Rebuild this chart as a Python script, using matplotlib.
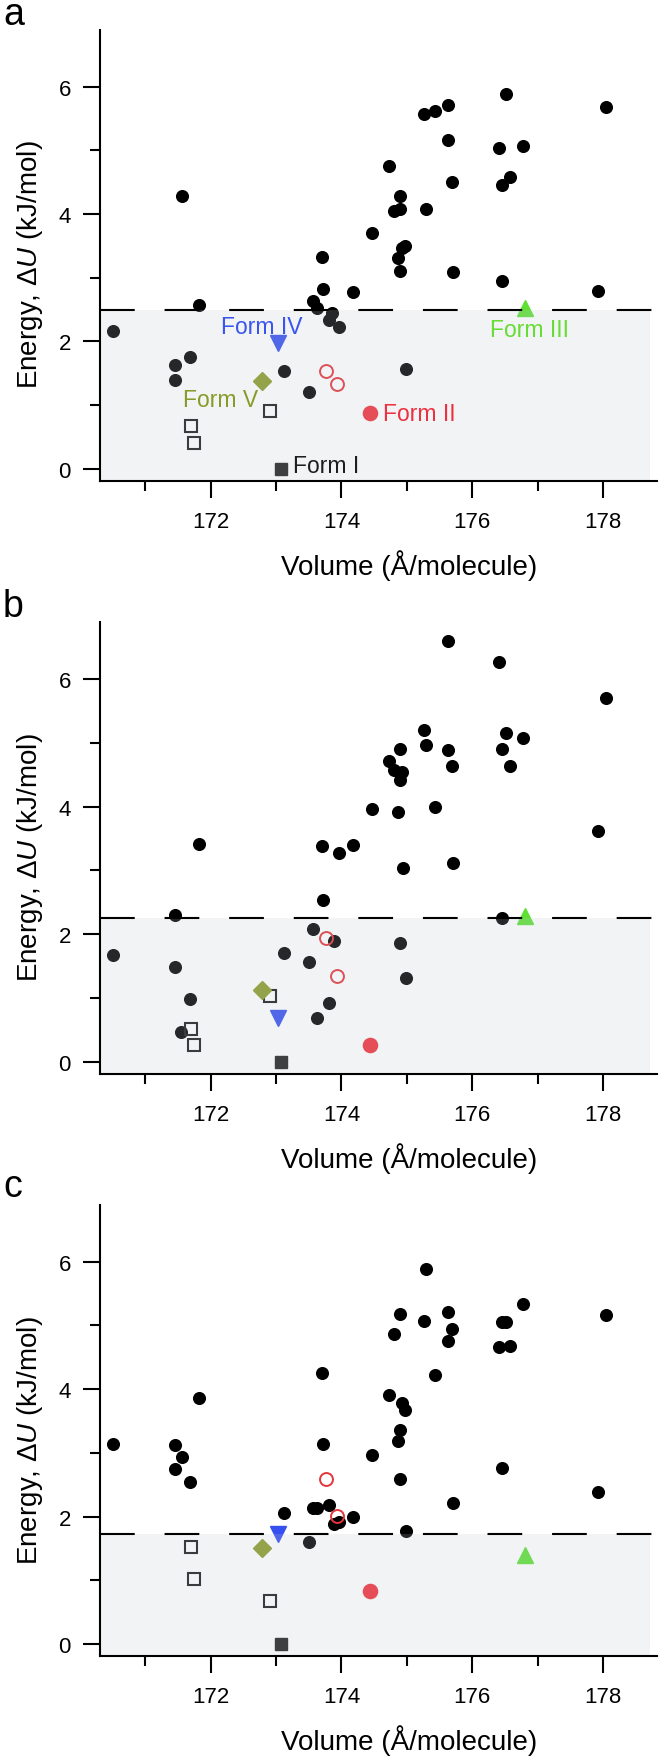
import matplotlib
matplotlib.use('Agg')
import matplotlib.pyplot as plt
from matplotlib.ticker import MultipleLocator

plt.rcParams['font.family'] = ['Liberation Sans', 'DejaVu Sans']
plt.rcParams['mathtext.fontset'] = 'custom'
plt.rcParams['mathtext.rm'] = 'Liberation Sans'
plt.rcParams['mathtext.it'] = 'Liberation Sans:italic'
plt.rcParams['lines.scale_dashes'] = False

# ---------------- data ----------------
panel_letters = ['a', 'b', 'c']
thresholds = [2.5, 2.25, 1.73]

vol_a = [171.56, 175.26, 175.43, 175.63, 176.52, 178.05, 175.63, 176.41, 176.78, 174.73,
         175.69, 176.57, 176.46, 174.90, 174.89, 174.80, 175.29, 174.47, 174.97, 174.92,
         173.70, 174.87, 174.90, 175.71, 176.45, 177.93, 173.72, 174.17, 173.57, 171.83,
         173.62, 173.86, 173.81, 173.96, 170.51, 171.68, 171.46, 171.46, 173.13, 174.99,
         173.51]
energy_a = [4.29, 5.57, 5.62, 5.72, 5.88, 5.68, 5.17, 5.04, 5.07, 4.76,
            4.51, 4.59, 4.46, 4.28, 4.08, 4.05, 4.08, 3.71, 3.50, 3.46,
            3.33, 3.31, 3.11, 3.09, 2.95, 2.79, 2.83, 2.77, 2.64, 2.58,
            2.53, 2.45, 2.34, 2.22, 2.17, 1.75, 1.63, 1.39, 1.53, 1.57,
            1.21]

vol_b = [175.63, 176.41, 178.05, 175.26, 175.29, 176.52, 176.78, 174.90, 175.63, 176.46,
         174.73, 174.80, 174.93, 174.89, 175.69, 176.57, 174.47, 174.87, 175.43, 177.93,
         171.83, 173.70, 173.96, 174.17, 175.71, 174.94, 173.72, 171.46, 176.45, 173.57,
         173.88, 174.90, 170.51, 173.13, 171.46, 173.51, 174.99, 171.68, 173.81, 173.62,
         171.55]
energy_b = [6.59, 6.26, 5.70, 5.20, 4.97, 5.15, 5.07, 4.90, 4.89, 4.90,
            4.71, 4.58, 4.54, 4.42, 4.64, 4.64, 3.96, 3.92, 4.00, 3.62,
            3.41, 3.38, 3.28, 3.40, 3.12, 3.04, 2.53, 2.30, 2.25, 2.08,
            1.90, 1.87, 1.68, 1.71, 1.48, 1.57, 1.31, 0.99, 0.92, 0.68,
            0.47]

vol_c = [175.29, 176.78, 178.05, 174.89, 175.63, 175.26, 176.46, 176.52, 175.69, 174.80,
         175.63, 176.41, 176.57, 173.70, 175.43, 171.83, 174.73, 174.93, 174.97, 174.90,
         170.51, 171.46, 173.72, 174.87, 171.56, 174.47, 171.46, 176.45, 171.68, 174.90,
         177.93, 175.71, 173.81, 173.57, 173.62, 173.13, 174.17, 173.88, 173.96, 174.99,
         173.51]
energy_c = [5.88, 5.33, 5.16, 5.18, 5.21, 5.07, 5.06, 5.06, 4.95, 4.86,
            4.76, 4.67, 4.68, 4.25, 4.22, 3.87, 3.91, 3.78, 3.67, 3.36,
            3.14, 3.12, 3.14, 3.18, 2.93, 2.97, 2.75, 2.77, 2.54, 2.59,
            2.38, 2.21, 2.19, 2.13, 2.14, 2.06, 1.99, 1.88, 1.92, 1.77,
            1.61]

open_circle_vol = [173.77, 173.94]
open_circle_e = [[1.54, 1.33], [1.94, 1.35], [2.59, 2.01]]

open_square_vol = [172.91, 171.70, 171.75]
open_square_e = [[0.91, 0.68, 0.41], [1.03, 0.52, 0.27], [0.67, 1.52, 1.02]]

form_names = ['Form I', 'Form II', 'Form III', 'Form IV', 'Form V']
form_vol = [173.07, 174.44, 176.81, 173.03, 172.79]
form_e = [[0.0, 0.87, 2.52, 1.98, 1.38],
          [0.0, 0.26, 2.29, 0.68, 1.13],
          [0.0, 0.83, 1.40, 1.73, 1.51]]

x_ticks = [172, 174, 176, 178]
y_ticks = [0, 2, 4, 6]

# ---------------- styles ----------------
form_styles = [
    dict(marker='s', ms=9.2, color='#1e1e1e'),
    dict(marker='o', ms=10.2, color='#f0303c'),
    dict(marker='^', ms=11.5, color='#5ee035'),
    dict(marker='v', ms=12, color='#3550ee'),
    dict(marker='D', ms=9, color='#8a9a28'),
]
label_colors = ['#1e1e1e', '#ee3040', '#66dd33', '#3a55ee', '#8a9a28']
# label text positions (panel a only): (x, y baseline)
label_pos = [(173.26, -0.05), (174.64, 0.76), (176.27, 2.09), (172.16, 2.13), (171.58, 0.98)]

vols = [vol_a, vol_b, vol_c]
energies = [energy_a, energy_b, energy_c]

fig = plt.figure(figsize=(6.61, 17.58), dpi=100)
W, H = 661.0, 1758.0
ax_left = 100 / W
ax_width = (656.7 - 100) / W
ax_tops = [31, 623.3, 1206]
ax_bottoms = [482, 1075, 1657.3]
letter_baselines = [25, 617, 1197]

for i in range(3):
    rect = [ax_left, 1 - ax_bottoms[i] / H, ax_width, (ax_bottoms[i] - ax_tops[i]) / H]
    ax = fig.add_axes(rect)
    ax.set_xlim(170.31, 178.82)
    ax.set_ylim(-0.19, 6.89)

    ax.plot(vols[i], energies[i], linestyle='none', marker='o', ms=8.4,
            color='black', mec='black', zorder=2)
    ax.plot(open_circle_vol, open_circle_e[i], linestyle='none', marker='o', ms=9.3,
            mfc='none', mec='#e5343a', mew=1.4, zorder=2)
    ax.plot(open_square_vol, open_square_e[i], linestyle='none', marker='s', ms=8.4,
            mfc='none', mec='#1a1a1a', mew=1.5, zorder=2)
    for k in range(len(form_names)):
        st = form_styles[k]
        ax.plot([form_vol[k]], [form_e[i][k]], linestyle='none', marker=st['marker'],
                ms=st['ms'], color=st['color'], mec=st['color'], zorder=2)

    # shaded stability region (semi-transparent overlay)
    ax.axhspan(-0.19, thresholds[i], xmin=0, xmax=0.988,
               facecolor=(0.74, 0.77, 0.82), alpha=0.2, edgecolor='none', zorder=3)
    ax.axhline(thresholds[i], color='black', lw=1.5, linestyle=(0, (25, 21.5)), zorder=4)

    if i == 0:
        for k in range(len(form_names)):
            ax.text(label_pos[k][0], label_pos[k][1], form_names[k], color=label_colors[k],
                    fontsize=16.5, va='baseline', ha='left', zorder=6)

    for s in ['top', 'right']:
        ax.spines[s].set_visible(False)
    for s in ['left', 'bottom']:
        ax.spines[s].set_linewidth(1.5)
        ax.spines[s].set_zorder(5)

    ax.set_xticks(x_ticks)
    ax.set_yticks(y_ticks)
    ax.xaxis.set_minor_locator(MultipleLocator(1))
    ax.yaxis.set_minor_locator(MultipleLocator(1))
    ax.tick_params(which='major', length=12.5, width=1.5, direction='out', labelsize=16)
    ax.tick_params(which='minor', length=7, width=1.5, direction='out')
    ax.tick_params(axis='y', which='major', pad=8.5)
    ax.tick_params(axis='x', which='major', pad=9)

    ax.set_xlabel('Volume (Å/molecule)', fontsize=20)
    ax.xaxis.label.set_va('baseline')
    ax.xaxis.set_label_coords(0.555, -0.206)
    ax.set_ylabel('Energy, Δ$\\mathit{U}$ (kJ/mol)', fontsize=20)
    ax.yaxis.label.set_va('baseline')
    ax.yaxis.label.set_rotation_mode('anchor')
    ax.yaxis.set_label_coords(-0.113, 0.481)

    fig.text(3 / W, 1 - letter_baselines[i] / H, panel_letters[i], fontsize=27,
             va='baseline', ha='left')

fig.savefig('out.png', dpi=100)
